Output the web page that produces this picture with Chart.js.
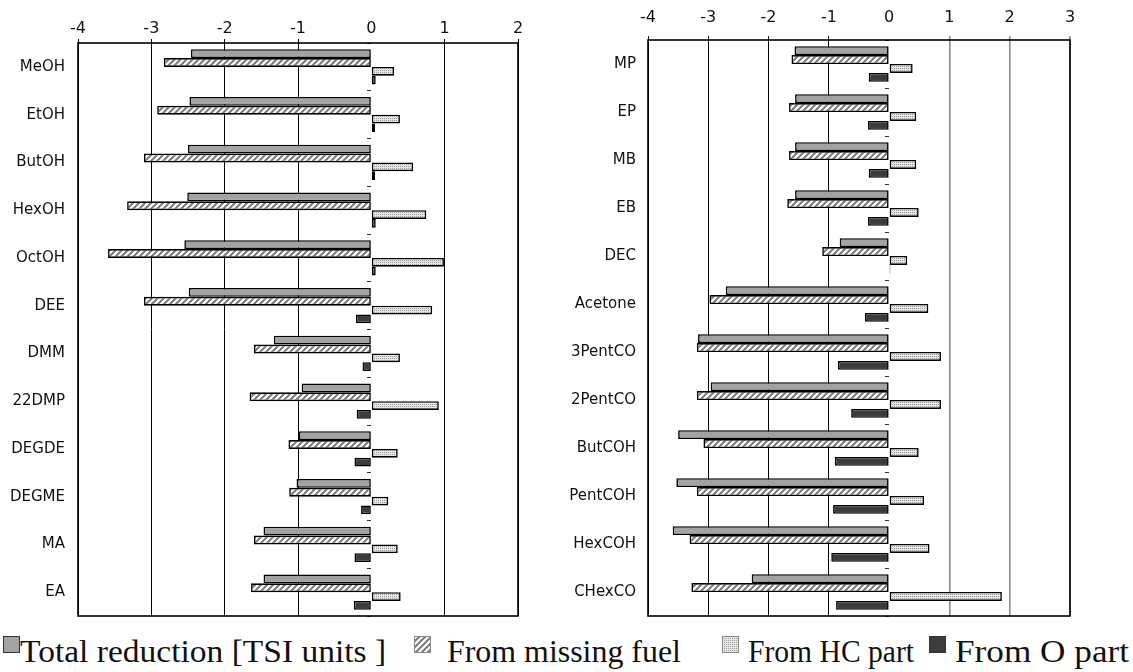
<!DOCTYPE html>
<html>
<head>
<meta charset="utf-8">
<script src="https://cdn.jsdelivr.net/npm/chart.js@4/dist/chart.umd.min.js"></script>
<style>
  body { margin: 0; background: #fff; width: 1133px; height: 672px; position: relative; overflow: hidden; }
  .panel { position: absolute; top: 0; height: 625px; }
  #leftPanel { left: 0; width: 560px; }
  #rightPanel { left: 560px; width: 573px; }
  .key { position: absolute; top: 632px; font-family: "Liberation Serif", "Times New Roman", serif; font-size: 32px; color: #111; white-space: nowrap; line-height: 38px; }
  .key canvas { position: absolute; top: 4px; left: 0; }
  .key span { position: absolute; top: 0; transform-origin: 0 50%; }
</style>
</head>
<body>
<div class="panel" id="leftPanel"><canvas id="leftChart"></canvas></div>
<div class="panel" id="rightPanel"><canvas id="rightChart"></canvas></div>
<div id="legend"></div>
<script>
const seriesNames = ['Total reduction [TSI units ]', 'From missing fuel', 'From HC part', 'From O part'];

// alcohols, ethers, esters
const leftFuels = ['MeOH', 'EtOH', 'ButOH', 'HexOH', 'OctOH', 'DEE', 'DMM', '22DMP', 'DEGDE', 'DEGME', 'MA', 'EA'];
const leftTotal   = [-2.46, -2.48, -2.50, -2.51, -2.55, -2.49, -1.33, -0.95, -0.99, -1.02, -1.47, -1.47];
const leftMissing = [-2.83, -2.92, -3.10, -3.33, -3.59, -3.10, -1.60, -1.66, -1.13, -1.12, -1.60, -1.64];
const leftHC      = [0.31, 0.39, 0.57, 0.75, 0.99, 0.83, 0.39, 0.92, 0.36, 0.23, 0.36, 0.40];
const leftO       = [0.06, 0.05, 0.05, 0.06, 0.06, -0.21, -0.12, -0.20, -0.23, -0.14, -0.23, -0.24];

// esters, carbonate, ketones, aldehydes
const rightFuels = ['MP', 'EP', 'MB', 'EB', 'DEC', 'Acetone', '3PentCO', '2PentCO', 'ButCOH', 'PentCOH', 'HexCOH', 'CHexCO'];
const rightTotal   = [-1.57, -1.56, -1.56, -1.56, -0.82, -2.71, -3.17, -2.96, -3.50, -3.53, -3.59, -2.28];
const rightMissing = [-1.62, -1.66, -1.66, -1.69, -1.11, -2.98, -3.19, -3.19, -3.08, -3.19, -3.31, -3.28];
const rightHC      = [0.39, 0.45, 0.45, 0.49, 0.30, 0.65, 0.86, 0.86, 0.49, 0.58, 0.67, 1.87];
const rightO       = [-0.34, -0.35, -0.34, -0.35, 0.02, -0.40, -0.85, -0.63, -0.90, -0.93, -0.96, -0.88];

const leftRange = [-4, 2];
const rightRange = [-4, 3];

function tile(w, h, paint) {
  const c = document.createElement('canvas');
  c.width = w; c.height = h;
  paint(c.getContext('2d'));
  return c;
}

const hatchTile = tile(6, 6, g => {
  g.fillStyle = '#fff';
  g.fillRect(0, 0, 6, 6);
  g.strokeStyle = '#7a7a7a';
  g.lineWidth = 2;
  g.beginPath();
  g.moveTo(0, 6); g.lineTo(6, 0);
  g.moveTo(-3, 3); g.lineTo(3, -3);
  g.moveTo(3, 9); g.lineTo(9, 3);
  g.stroke();
});

const dotTile = tile(2, 2, g => {
  g.fillStyle = '#e6e6e6';
  g.fillRect(0, 0, 2, 2);
  g.fillStyle = '#9c9c9c';
  g.fillRect(0, 0, 1, 1);
});

const ctx0 = document.createElement('canvas').getContext('2d');
const fills = [
  '#a3a3a3',
  ctx0.createPattern(hatchTile, 'repeat'),
  ctx0.createPattern(dotTile, 'repeat'),
  '#3c3c3c'
];

// frame around the plot area
const frame = {
  id: 'frame',
  afterDatasetsDraw(chart) {
    const a = chart.chartArea, g = chart.ctx;
    g.save();
    g.strokeStyle = '#000';
    g.lineWidth = 1.6;
    g.strokeRect(a.left, a.top, a.right - a.left, a.bottom - a.top);
    g.restore();
  }
};

function makeChart(id, labels, values, range, box) {
  const labelFont = { family: 'DejaVu Sans', size: 15 };
  const numberFont = { family: 'DejaVu Sans', size: 16 };
  return new Chart(document.getElementById(id), {
    type: 'bar',
    data: {
      labels: labels,
      datasets: values.map((v, i) => ({
        label: seriesNames[i],
        data: v,
        backgroundColor: fills[i],
        borderColor: '#000',
        borderWidth: 1.6,
        borderSkipped: false,
        categoryPercentage: 0.74,
        barPercentage: 1.0
      }))
    },
    options: {
      indexAxis: 'y',
      responsive: true,
      maintainAspectRatio: false,
      animation: false,
      layout: { padding: { top: 0, right: box.right, bottom: box.bottom, left: 0 } },
      plugins: { legend: { display: false }, tooltip: { enabled: false } },
      scales: {
        x: {
          position: 'top',
          min: range[0],
          max: range[1],
          ticks: { stepSize: 1, font: numberFont, color: '#111', padding: box.tickPad },
          grid: {
            tickLength: 4,
            color: c => c.tick.value === 0 ? 'rgba(0,0,0,0)' : (c.tick.value > 0 ? box.posGrid : '#000'),
            lineWidth: c => c.tick.value > 0 ? box.posWidth : 1
          },
          border: { display: false },
          afterFit: s => { s.height = box.top; s.paddingLeft = 0; s.paddingRight = 0; }
        },
        y: {
          ticks: { font: labelFont, color: '#111', padding: box.labelPad },
          grid: { display: false, drawTicks: false },
          border: { display: false },
          afterFit: s => { s.width = box.left; s.paddingTop = 0; s.paddingBottom = 0; }
        },
        // short marks along the zero line between groups
        zero: {
          type: 'category',
          axis: 'y',
          position: { x: 0 },
          offset: true,
          ticks: { display: false },
          grid: { offset: true, drawOnChartArea: false, tickLength: 4, color: '#333', lineWidth: 1 },
          border: { display: false },
          afterFit: s => { s.paddingTop = 0; s.paddingBottom = 0; }
        }
      }
    },
    plugins: [frame]
  });
}

makeChart('leftChart', leftFuels, [leftTotal, leftMissing, leftHC, leftO], leftRange,
  { top: 43, left: 78, right: 42, bottom: 9, tickPad: 1, labelPad: 13, posGrid: '#000', posWidth: 1 });
makeChart('rightChart', rightFuels, [rightTotal, rightMissing, rightHC, rightO], rightRange,
  { top: 40, left: 88, right: 63, bottom: 9, tickPad: 9, labelPad: 12, posGrid: '#8c8c8c', posWidth: 1.6 });

// shared legend under both panels: swatch x, text x, text width
const keySpots = [
  { left: 3, text: 20, width: 366 },
  { left: 414, text: 447, width: 234 },
  { left: 722, text: 748, width: 166 },
  { left: 929, text: 955, width: 174 }
];
const legend = document.getElementById('legend');
const measure = document.createElement('canvas').getContext('2d');
measure.font = '32px "Liberation Serif"';
seriesNames.forEach((name, i) => {
  const spot = keySpots[i];
  const item = document.createElement('div');
  item.className = 'key';
  item.style.left = spot.left + 'px';
  const sw = document.createElement('canvas');
  sw.width = 17; sw.height = 17;
  const g = sw.getContext('2d');
  g.fillStyle = fills[i];
  g.fillRect(0, 0, 17, 17);
  g.strokeStyle = i === 0 || i === 3 ? '#333' : '#888';
  g.lineWidth = 1;
  g.strokeRect(0.5, 0.5, 16, 16);
  const label = document.createElement('span');
  label.textContent = name;
  label.style.left = (spot.text - spot.left) + 'px';
  const natural = measure.measureText(name).width;
  label.style.transform = 'scaleX(' + (spot.width / natural).toFixed(3) + ')';
  item.appendChild(sw);
  item.appendChild(label);
  legend.appendChild(item);
});
</script>
</body>
</html>
